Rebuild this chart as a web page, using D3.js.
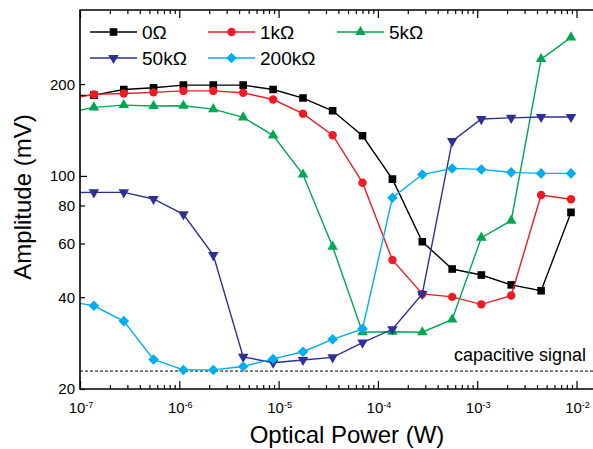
<!DOCTYPE html>
<html>
<head>
<meta charset="utf-8">
<script src="https://cdn.jsdelivr.net/npm/d3@7"></script>
<style>
body { margin: 0; background: #fff; }
svg text { font-family: "Liberation Sans", Arial, sans-serif; fill: #000; }
</style>
</head>
<body>
<script>
// optical power (W), first point sits left of the axis and gets clipped
var power = [6.9e-8, 1.38e-7, 2.76e-7, 5.5e-7, 1.1e-6, 2.2e-6, 4.4e-6, 8.8e-6, 1.76e-5, 3.5e-5, 7e-5, 1.4e-4, 2.8e-4, 5.6e-4, 1.1e-3, 2.2e-3, 4.4e-3, 8.8e-3];

// amplitude (mV) per load resistance
var amp0 = [183, 184, 192, 194.5, 198.5, 198.5, 198.5, 192, 180, 163.5, 135.4, 97.6, 60.8, 49.5, 47.3, 43.9, 42.0, 75.9];
var amp1k = [177, 185, 186.4, 187.9, 190, 190, 187.3, 178, 160, 136, 95, 53, 41, 40.1, 37.9, 40.5, 86.5, 83.8];
var amp5k = [160, 167.7, 170.7, 169.5, 169.8, 165.6, 155.5, 135.8, 101, 58.6, 30.7, 30.8, 30.7, 33.8, 62.7, 71.3, 241.6, 284.6];
var amp50k = [88, 88.3, 88.3, 84, 74.8, 55, 25.5, 24.4, 24.9, 25.4, 28.4, 31.4, 41, 130, 153.6, 155, 156, 156];
var amp200k = [39, 37.5, 33.4, 25.0, 23.1, 23.1, 23.7, 25.1, 26.5, 29.1, 31.5, 84.8, 101, 105.8, 105, 102.7, 101.9, 101.9];

var capacitive = 22.9;

var seriesNames = ["0Ω", "1kΩ", "5kΩ", "50kΩ", "200kΩ"];
var seriesColors = ["#000000", "#ed1c24", "#00a651", "#2e3192", "#00aeef"];
var seriesMarkers = ["square", "circle", "up", "down", "diamond"];
var seriesValues = [amp0, amp1k, amp5k, amp50k, amp200k];

var xMajor = [1e-7, 1e-6, 1e-5, 1e-4, 1e-3, 1e-2];
var xMinor = [];
xMajor.forEach(function(m) {
    [2, 3, 4, 5, 6, 7, 8, 9].forEach(function(k) { if (m * k < 2e-2) xMinor.push(m * k); });
});
var yTicks = [20, 40, 60, 80, 100, 200];

var w = 593;
var h = 449;

var svg = d3.select("body").append("svg")
    .attr("width", w)
    .attr("height", h);

var pLeft = 80, pRight = 606.4, pTop = 10, pBottom = 389;

var x = d3.scaleLog().domain([1e-7, 2e-2]).range([pLeft, pRight]);
var y = d3.scaleLog().domain([20, 350]).range([pBottom, pTop]);

svg.append("clipPath").attr("id", "plot")
    .append("rect")
    .attr("x", pLeft).attr("y", pTop)
    .attr("width", pRight - pLeft).attr("height", pBottom - pTop);

// capacitive signal reference
svg.append("line")
    .attr("x1", pLeft).attr("x2", pRight)
    .attr("y1", y(capacitive)).attr("y2", y(capacitive))
    .attr("stroke", "#000")
    .attr("stroke-width", 1)
    .attr("stroke-dasharray", "3,2");

svg.append("text")
    .attr("x", 586)
    .attr("y", 361)
    .attr("text-anchor", "end")
    .style("font-size", "18px")
    .text("capacitive signal");

function marker(type) {
    if (type == "circle") return d3.symbol(d3.symbolCircle, 56)();
    if (type == "square") return d3.symbol(d3.symbolSquare, 58)();
    if (type == "diamond") return d3.symbol(d3.symbolSquare, 56)();
    return d3.symbol(d3.symbolTriangle, 48)();
}

function markerRotation(type) {
    if (type == "down") return " rotate(180)";
    if (type == "diamond") return " rotate(45)";
    return "";
}

var line = d3.line()
    .x(function(d) { return x(d[0]); })
    .y(function(d) { return y(d[1]); });

var plot = svg.append("g").attr("clip-path", "url(#plot)");

seriesValues.forEach(function(vals, s) {
    var pts = power.map(function(p, i) { return [p, vals[i]]; });
    var g = plot.append("g");
    g.append("path")
        .attr("d", line(pts))
        .attr("fill", "none")
        .attr("stroke", seriesColors[s])
        .attr("stroke-width", 1.4);
    g.selectAll("path.mark").data(pts)
        .enter().append("path")
        .attr("class", "mark")
        .attr("d", marker(seriesMarkers[s]))
        .attr("transform", function(d) {
            return "translate(" + x(d[0]) + "," + y(d[1]) + ")" + markerRotation(seriesMarkers[s]);
        })
        .attr("fill", seriesColors[s]);
});

// axes: ticks point into the plot
svg.append("g")
    .attr("transform", "translate(0," + pBottom + ")")
    .call(d3.axisBottom(x).tickValues(xMajor).tickSizeInner(-8).tickSizeOuter(0).tickFormat(""));
svg.append("g")
    .attr("transform", "translate(0," + pBottom + ")")
    .call(d3.axisBottom(x).tickValues(xMinor).tickSizeInner(-4).tickSizeOuter(0).tickFormat(""));
svg.append("g")
    .attr("transform", "translate(0," + pTop + ")")
    .call(d3.axisTop(x).tickValues(xMajor).tickSizeInner(-8).tickSizeOuter(0).tickFormat(""));
svg.append("g")
    .attr("transform", "translate(0," + pTop + ")")
    .call(d3.axisTop(x).tickValues(xMinor).tickSizeInner(-4).tickSizeOuter(0).tickFormat(""));
svg.append("g")
    .attr("class", "y-axis")
    .attr("transform", "translate(" + pLeft + ",0)")
    .call(d3.axisLeft(y).tickValues(yTicks).tickSizeInner(-5).tickSizeOuter(0).tickFormat(""));
// the decade tick is a bit longer
svg.select(".y-axis").selectAll(".tick line").filter(function(d) { return d == 100; }).attr("x2", 7);

svg.selectAll(".domain").remove();
svg.selectAll(".tick line").attr("stroke", "#000").attr("stroke-width", 1.2);

// frame
svg.append("path")
    .attr("d", "M" + pRight + "," + pTop + "H" + pLeft + "V" + pBottom + "H" + pRight)
    .attr("fill", "none")
    .attr("stroke", "#000")
    .attr("stroke-width", 1.6);

// tick labels
svg.selectAll(".ylab").data(yTicks)
    .enter().append("text")
    .attr("class", "ylab")
    .attr("x", 75)
    .attr("y", function(d) { return y(d); })
    .attr("dy", "0.36em")
    .attr("text-anchor", "end")
    .style("font-size", "15px")
    .text(function(d) { return d; });

var xlab = svg.selectAll(".xlab").data(xMajor)
    .enter().append("text")
    .attr("class", "xlab")
    .attr("x", function(d) { return x(d) + 1; })
    .attr("y", 413)
    .attr("text-anchor", "middle")
    .style("font-size", "15px");
xlab.append("tspan").text("10");
xlab.append("tspan")
    .attr("dy", -5)
    .style("font-size", "9px")
    .text(function(d) { return Math.round(Math.log10(d)); });

// axis titles
svg.append("text")
    .attr("x", 347)
    .attr("y", 443)
    .attr("text-anchor", "middle")
    .style("font-size", "24px")
    .text("Optical Power (W)");

svg.append("text")
    .attr("transform", "translate(31,197) rotate(-90)")
    .attr("text-anchor", "middle")
    .style("font-size", "24px")
    .text("Amplitude (mV)");

// legend, two rows
var legendPos = [[90, 32], [208, 32], [337, 32], [90, 58], [208, 58]];
seriesNames.forEach(function(name, s) {
    var lx = legendPos[s][0], ly = legendPos[s][1];
    var g = svg.append("g");
    g.append("line")
        .attr("x1", lx).attr("x2", lx + 47)
        .attr("y1", ly).attr("y2", ly)
        .attr("stroke", seriesColors[s])
        .attr("stroke-width", 1.4);
    g.append("path")
        .attr("d", marker(seriesMarkers[s]))
        .attr("transform", "translate(" + (lx + 23.5) + "," + ly + ")" + markerRotation(seriesMarkers[s]))
        .attr("fill", seriesColors[s]);
    g.append("text")
        .attr("x", lx + 52)
        .attr("y", ly + 6.5)
        .style("font-size", "19px")
        .text(name);
});
</script>
</body>
</html>
